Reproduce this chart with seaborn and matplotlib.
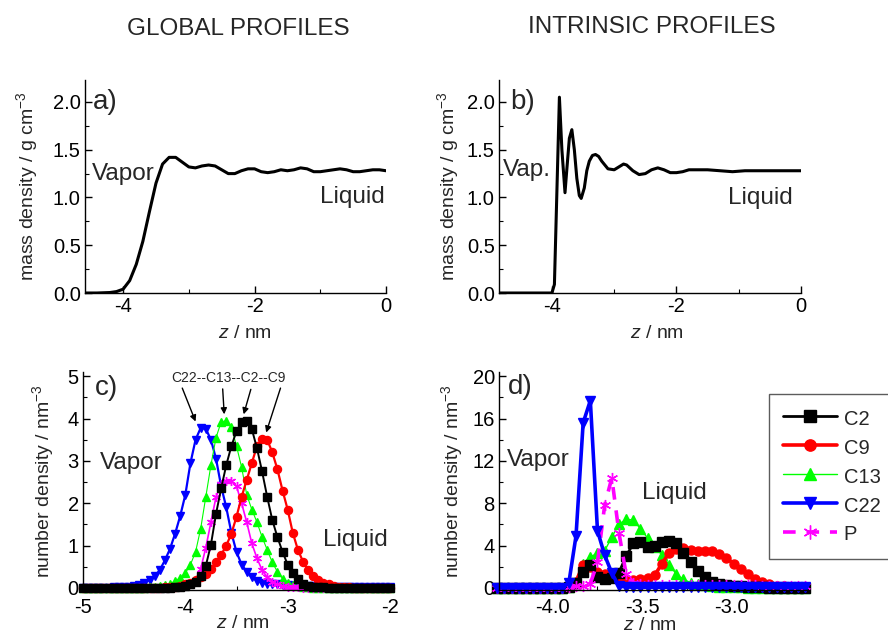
import numpy as np
import matplotlib
matplotlib.use("Agg")
import matplotlib.pyplot as plt
from matplotlib.ticker import MultipleLocator
import seaborn as sns

# ---------------- data ----------------
# a) global mass density profile
z_a = [-4.6, -4.4, -4.2, -4.1, -4.0, -3.9, -3.8, -3.7, -3.6, -3.5, -3.4, -3.3, -3.2,
       -3.1, -3.0, -2.9, -2.8, -2.7, -2.6, -2.5, -2.4, -2.3, -2.2, -2.1, -2.0, -1.9,
       -1.8, -1.7, -1.6, -1.5, -1.4, -1.3, -1.2, -1.1, -1.0, -0.9, -0.8, -0.7, -0.6,
       -0.5, -0.4, -0.3, -0.2, -0.1, 0.0]
rho_a = [0.0, 0.0, 0.005, 0.015, 0.04, 0.13, 0.30, 0.54, 0.85, 1.15, 1.35, 1.42, 1.42,
         1.37, 1.32, 1.31, 1.33, 1.34, 1.33, 1.29, 1.25, 1.25, 1.28, 1.30, 1.30, 1.27,
         1.26, 1.27, 1.29, 1.28, 1.29, 1.31, 1.30, 1.27, 1.27, 1.28, 1.29, 1.30, 1.29,
         1.27, 1.27, 1.28, 1.29, 1.29, 1.28]

# b) intrinsic mass density profile
z_b = [-4.85, -4.5, -4.2, -4.0, -3.96, -3.88, -3.84, -3.79, -3.76, -3.72, -3.68, -3.64,
       -3.60, -3.56, -3.53, -3.48, -3.44, -3.40, -3.35, -3.30, -3.25, -3.20, -3.10,
       -3.00, -2.90, -2.85, -2.80, -2.70, -2.60, -2.50, -2.40, -2.30, -2.20, -2.10,
       -2.00, -1.90, -1.80, -1.70, -1.50, -1.30, -1.10, -0.90, -0.60, -0.30, 0.0]
rho_b = [0.0, 0.0, 0.0, 0.0, 0.09, 2.05, 1.50, 1.05, 1.30, 1.62, 1.71, 1.50,
         1.20, 1.02, 0.99, 1.10, 1.28, 1.38, 1.44, 1.45, 1.43, 1.38, 1.30,
         1.29, 1.33, 1.35, 1.34, 1.28, 1.24, 1.25, 1.29, 1.31, 1.29, 1.26,
         1.26, 1.27, 1.29, 1.29, 1.29, 1.28, 1.27, 1.28, 1.28, 1.28, 1.28]

# c) global number density profiles (bins of 0.05 nm from -5 to -2)
z_c = np.round(np.linspace(-5.0, -2.0, 61), 2)
c2_c = [0]*10 + [0, 0, 0, 0, 0, 0, 0, 0, 0.01, 0.02,
                 0.04, 0.08, 0.15, 0.28, 0.52, 1.02, 1.75, 2.35, 2.90, 3.35,
                 3.70, 3.92, 3.95, 3.75, 3.30, 2.75, 2.15, 1.60, 1.20, 0.85,
                 0.55, 0.35, 0.20, 0.10, 0.05, 0.03, 0.02, 0.01, 0, 0] + [0]*11
c9_c = [0]*10 + [0, 0, 0, 0, 0, 0, 0.01, 0.02, 0.03, 0.05,
                 0.08, 0.12, 0.18, 0.25, 0.33, 0.45, 0.60, 0.78, 1.00, 1.28,
                 1.68, 2.15, 2.55, 2.95, 3.35, 3.52, 3.50, 3.20, 2.80, 2.30,
                 1.85, 1.30, 0.90, 0.62, 0.42, 0.28, 0.18, 0.12, 0.08, 0.05,
                 0.03, 0.02, 0.01, 0, 0, 0, 0, 0, 0, 0, 0]
c13_c = [0]*10 + [0, 0, 0, 0.01, 0.02, 0.04, 0.07, 0.10, 0.16, 0.24,
                  0.35, 0.55, 0.85, 1.40, 2.15, 2.90, 3.55, 3.92, 3.95, 3.80,
                  3.35, 2.85, 2.20, 1.85, 1.55, 1.20, 0.90, 0.60, 0.38, 0.22,
                  0.12, 0.07, 0.04, 0.02, 0.01, 0, 0, 0, 0, 0] + [0]*11
c22_c = [0, 0, 0, 0, 0, 0, 0.01, 0.01, 0.01, 0.02,
         0.04, 0.07, 0.12, 0.19, 0.28, 0.42, 0.65, 0.92, 1.28, 1.70,
         2.20, 2.95, 3.50, 3.78, 3.76, 3.50, 3.05, 2.40, 1.90, 1.30,
         0.85, 0.55, 0.38, 0.25, 0.17, 0.12, 0.10, 0.09, 0.08, 0.07,
         0.06, 0.05, 0.05, 0.04, 0.04, 0.04, 0.03, 0.03, 0.03, 0.03,
         0.03, 0.03, 0.03, 0.03, 0.03, 0.03, 0.03, 0.03, 0.03, 0.03, 0.03]
p_c = [0]*10 + [0, 0, 0, 0, 0, 0, 0, 0, 0.01, 0.02,
                0.04, 0.08, 0.18, 0.45, 0.95, 1.55, 2.15, 2.45, 2.52, 2.52,
                2.40, 2.00, 1.55, 1.05, 0.70, 0.42, 0.25, 0.14, 0.08, 0.05,
                0.03, 0.02, 0.01, 0, 0, 0, 0, 0, 0, 0] + [0]*11

# d) intrinsic number density profiles (bins of 0.04 nm)
z_d = np.round(np.linspace(-4.31, -2.59, 44), 2)
c2_d = [0]*10 + [0.05, 0.5, 1.5, 2.2, 1.0, 0.85, 0.9, 1.45, 3.0, 4.2,
                 4.3, 3.9, 4.0, 4.3, 4.4, 4.2, 3.3, 2.4, 1.6, 1.0,
                 0.6, 0.4, 0.3, 0.2, 0.15, 0.1, 0.07, 0.05, 0.03, 0.02,
                 0.02, 0.01, 0.01, 0.01]
c9_d = [0]*10 + [0.1, 0.6, 2.2, 2.0, 1.5, 1.35, 0.95, 0.75, 0.7, 0.75,
                 0.8, 0.9, 1.2, 2.3, 3.3, 3.7, 3.8, 3.6, 3.5, 3.5,
                 3.45, 3.2, 2.8, 2.3, 1.8, 1.3, 0.85, 0.55, 0.35, 0.22,
                 0.15, 0.1, 0.06, 0.04]
c13_d = [0]*10 + [0.1, 0.5, 2.3, 2.9, 3.3, 3.5, 4.8, 6.0, 6.5, 6.4,
                  5.6, 4.7, 3.9, 3.1, 2.2, 1.3, 0.8, 0.5, 0.35, 0.25,
                  0.15, 0.1, 0.07, 0.05, 0.04, 0.03, 0.02, 0.02, 0.01, 0.01,
                  0.01, 0.01, 0.01, 0.01]
c22_d = [0]*10 + [0.47, 4.9, 15.6, 17.7, 5.4, 3.1, 1.4, 0.15, 0.1, 0.05,
                  0.05, 0.05, 0.05, 0.05, 0.05, 0.05, 0.05, 0.05, 0.05, 0.05,
                  0.05, 0.05, 0.05, 0.05, 0.05, 0.05, 0.05, 0.05, 0.05, 0.05,
                  0.05, 0.05, 0.05, 0.05]
p_d = [0]*10 + [0.1, 0.15, 0.2, 0.4, 2.4, 7.8, 10.4, 5.2, 1.3, 0.5,
                0.4, 0.3, 0.3, 0.3, 0.3, 0.3, 0.3, 0.3, 0.3, 0.3,
                0.25, 0.25, 0.25, 0.25, 0.25, 0.25, 0.25, 0.2, 0.2, 0.2,
                0.2, 0.2, 0.2, 0.2]

series_names = ["C2", "C9", "C13", "C22", "P"]

# ---------------- style ----------------
sns.set_style("white")
plt.rcParams["font.family"] = ["Liberation Sans", "DejaVu Sans"]
plt.rcParams["mathtext.fontset"] = "custom"
plt.rcParams["mathtext.rm"] = "Liberation Sans"
plt.rcParams["mathtext.it"] = "Liberation Sans:italic"
plt.rcParams["axes.unicode_minus"] = False

colors = {"C2": "#000000", "C9": "#ff0000", "C13": "#00ff00", "C22": "#0000ff", "P": "#ff00ff"}
markers = {"C2": "s", "C9": "o", "C13": "^", "C22": "v", "P": (6, 2, 0)}
lw_d = {"C2": 2.0, "C9": 2.6, "C13": 1.0, "C22": 2.6, "P": 2.6}
ls_d = {"C2": "-", "C9": "-", "C13": "-", "C22": "-", "P": (0, (3.5, 3))}

W, H = 888, 633
fig = plt.figure(figsize=(W / 100, H / 100), dpi=100)


def add_ax(l, r, t, b):
    return fig.add_axes([l / W, 1 - b / H, (r - l) / W, (b - t) / H])


ax_a = add_ax(85, 386, 80, 293)
ax_b = add_ax(499, 801, 80, 293)
ax_c = add_ax(83, 390, 372, 590)
ax_d = add_ax(499, 807, 372, 590)

TICK = 14.5
LAB = 14
ANN = 17.5
LET = 20


def style_axis(ax, xmaj, xmin, ymaj, ymin, xpad=3):
    ax.spines[["top", "right"]].set_visible(False)
    for s in ("left", "bottom"):
        ax.spines[s].set_color("black")
        ax.spines[s].set_linewidth(1.0)
    ax.xaxis.set_major_locator(MultipleLocator(xmaj))
    ax.xaxis.set_minor_locator(MultipleLocator(xmin))
    ax.yaxis.set_major_locator(MultipleLocator(ymaj))
    ax.yaxis.set_minor_locator(MultipleLocator(ymin))
    ax.tick_params(which="major", direction="in", length=5, width=1, labelsize=TICK,
                   color="black", labelcolor="black", bottom=True, left=True, pad=3)
    ax.tick_params(axis="x", which="major", pad=xpad)
    ax.tick_params(which="minor", direction="in", length=3, width=0.8, color="black",
                   bottom=True, left=True)
    ax.grid(False)


# ---------------- panel a ----------------
sns.lineplot(x=z_a, y=rho_a, ax=ax_a, color="black", linewidth=2.2, estimator=None, sort=False)
ax_a.set_xlim(-4.58, 0)
ax_a.set_ylim(0, 2.23)
style_axis(ax_a, 2, 1, 0.5, 0.25)
ax_a.yaxis.set_major_formatter(matplotlib.ticker.FormatStrFormatter("%.1f"))
ax_a.set_xlabel(r"$\it{z}$ / nm", fontsize=LAB)
ax_a.set_ylabel(r"mass density / g cm$^{-3}$", fontsize=LAB)
ax_a.xaxis.set_label_coords(0.53, -0.188)
ax_a.xaxis.label.set_va("center")
ax_a.yaxis.set_label_coords(-0.193, 0.5)
ax_a.yaxis.label.set_va("center")
ax_a.text(0.027, 0.897, "a)", transform=ax_a.transAxes, fontsize=LET, ha="left", va="center")
ax_a.text(0.023, 0.559, "Vapor", transform=ax_a.transAxes, fontsize=ANN, ha="left", va="center")
ax_a.text(0.997, 0.45, "Liquid", transform=ax_a.transAxes, fontsize=ANN, ha="right", va="center")

# ---------------- panel b ----------------
sns.lineplot(x=z_b, y=rho_b, ax=ax_b, color="black", linewidth=2.2, estimator=None, sort=False)
ax_b.set_xlim(-4.85, 0)
ax_b.set_ylim(0, 2.23)
style_axis(ax_b, 2, 1, 0.5, 0.25)
ax_b.yaxis.set_major_formatter(matplotlib.ticker.FormatStrFormatter("%.1f"))
ax_b.set_xlabel(r"$\it{z}$ / nm", fontsize=LAB)
ax_b.set_ylabel(r"mass density / g cm$^{-3}$", fontsize=LAB)
ax_b.xaxis.set_label_coords(0.523, -0.188)
ax_b.xaxis.label.set_va("center")
ax_b.yaxis.set_label_coords(-0.169, 0.5)
ax_b.yaxis.label.set_va("center")
ax_b.text(0.036, 0.897, "b)", transform=ax_b.transAxes, fontsize=LET, ha="left", va="center")
ax_b.text(0.013, 0.577, "Vap.", transform=ax_b.transAxes, fontsize=ANN, ha="left", va="center")
ax_b.text(0.974, 0.446, "Liquid", transform=ax_b.transAxes, fontsize=ANN, ha="right", va="center")

# ---------------- panel c ----------------
c_data = {"C2": c2_c, "C9": c9_c, "C13": c13_c, "C22": c22_c, "P": p_c}
lw_c = {"C2": 1.4, "C9": 1.6, "C13": 0.8, "C22": 1.6, "P": 1.2}
for name in ["C22", "C13", "P", "C9", "C2"]:
    sns.lineplot(x=z_c, y=c_data[name], ax=ax_c, color=colors[name], linewidth=lw_c[name],
                 marker=markers[name], markersize=5.8 if name != "P" else 6.5,
                 markeredgecolor=colors[name], markerfacecolor=colors[name],
                 markeredgewidth=1.0, estimator=None, sort=False, clip_on=False)
ax_c.set_xlim(-5, -2)
ax_c.set_ylim(-0.05, 5.1)
style_axis(ax_c, 1, 0.5, 1, 0.5, xpad=6)
ax_c.set_xlabel(r"$\it{z}$ / nm", fontsize=LAB)
ax_c.set_ylabel(r"number density / nm$^{-3}$", fontsize=LAB)
ax_c.xaxis.set_label_coords(0.52, -0.155)
ax_c.xaxis.label.set_va("center")
ax_c.yaxis.set_label_coords(-0.13, 0.5)
ax_c.yaxis.label.set_va("center")
ax_c.text(0.039, 0.927, "c)", transform=ax_c.transAxes, fontsize=LET, ha="left", va="center")
ax_c.text(0.055, 0.583, "Vapor", transform=ax_c.transAxes, fontsize=ANN, ha="left", va="center")
ax_c.text(0.993, 0.229, "Liquid", transform=ax_c.transAxes, fontsize=ANN, ha="right", va="center")
ax_c.text(-3.58, 4.95, "C22--C13--C2--C9", fontsize=10, ha="center", va="center")
arrow_start = {"C22": (-4.03, 4.72), "C13": (-3.635, 4.70), "C2": (-3.36, 4.69), "C9": (-3.07, 4.72)}
arrow_dx = {"C22": -0.05, "C13": -0.02, "C2": -0.03, "C9": 0.04}
for name in ["C22", "C13", "C2", "C9"]:
    k = int(np.argmax(c_data[name]))
    end = (z_c[k] + arrow_dx[name], c_data[name][k] + 0.15)
    ax_c.annotate("", xy=end, xytext=arrow_start[name],
                  arrowprops=dict(arrowstyle="-|>", color="black", lw=1.0,
                                  shrinkA=0, shrinkB=0, mutation_scale=9))

# ---------------- panel d ----------------
d_data = {"C2": c2_d, "C9": c9_d, "C13": c13_d, "C22": c22_d, "P": p_d}
for name in ["C13", "C9", "C2", "P", "C22"]:
    sns.lineplot(x=z_d, y=d_data[name], ax=ax_d, color=colors[name], linewidth=lw_d[name],
                 linestyle=ls_d[name], marker=markers[name],
                 markersize=6.5 if name != "P" else 8,
                 markeredgecolor=colors[name], markerfacecolor=colors[name],
                 markeredgewidth=1.0, estimator=None, sort=False, clip_on=False,
                 label=name)
leg_ax = ax_d.get_legend()
if leg_ax is not None:
    leg_ax.remove()
ax_d.set_xlim(-4.30, -2.58)
ax_d.set_ylim(-0.2, 20.4)
style_axis(ax_d, 0.5, 0.25, 4, 2, xpad=6)
ax_d.xaxis.set_major_formatter(matplotlib.ticker.FormatStrFormatter("%.1f"))
ax_d.set_xlabel(r"$\it{z}$ / nm", fontsize=LAB)
ax_d.set_ylabel(r"number density / nm$^{-3}$", fontsize=LAB)
ax_d.xaxis.set_label_coords(0.49, -0.165)
ax_d.xaxis.label.set_va("center")
ax_d.yaxis.set_label_coords(-0.153, 0.5)
ax_d.yaxis.label.set_va("center")
ax_d.text(0.029, 0.93, "d)", transform=ax_d.transAxes, fontsize=LET, ha="left", va="center")
ax_d.text(0.026, 0.596, "Vapor", transform=ax_d.transAxes, fontsize=ANN, ha="left", va="center")
ax_d.text(0.464, 0.445, "Liquid", transform=ax_d.transAxes, fontsize=ANN, ha="left", va="center")

handles, labels = ax_d.get_legend_handles_labels()
order = [labels.index(n) for n in series_names]
leg = fig.legend([handles[i] for i in order], [labels[i] for i in order],
                 loc="upper left", bbox_to_anchor=(769 / W, 1 - 394 / H),
                 fontsize=14.5, frameon=True, fancybox=False, shadow=False,
                 handlelength=2.7, handletextpad=0.3, borderpad=0.7,
                 handleheight=1.1, labelspacing=0.42, borderaxespad=0,
                 markerscale=1.25)
leg.get_frame().set_edgecolor("#333333")
leg.get_frame().set_linewidth(1.0)

# ---------------- titles ----------------
fig.text(238 / W, 1 - 29 / H, "GLOBAL PROFILES", fontsize=17.5, ha="center", va="center")
fig.text(652 / W, 1 - 27 / H, "INTRINSIC PROFILES", fontsize=17.5, ha="center", va="center")

fig.savefig("out.png", dpi=100)
